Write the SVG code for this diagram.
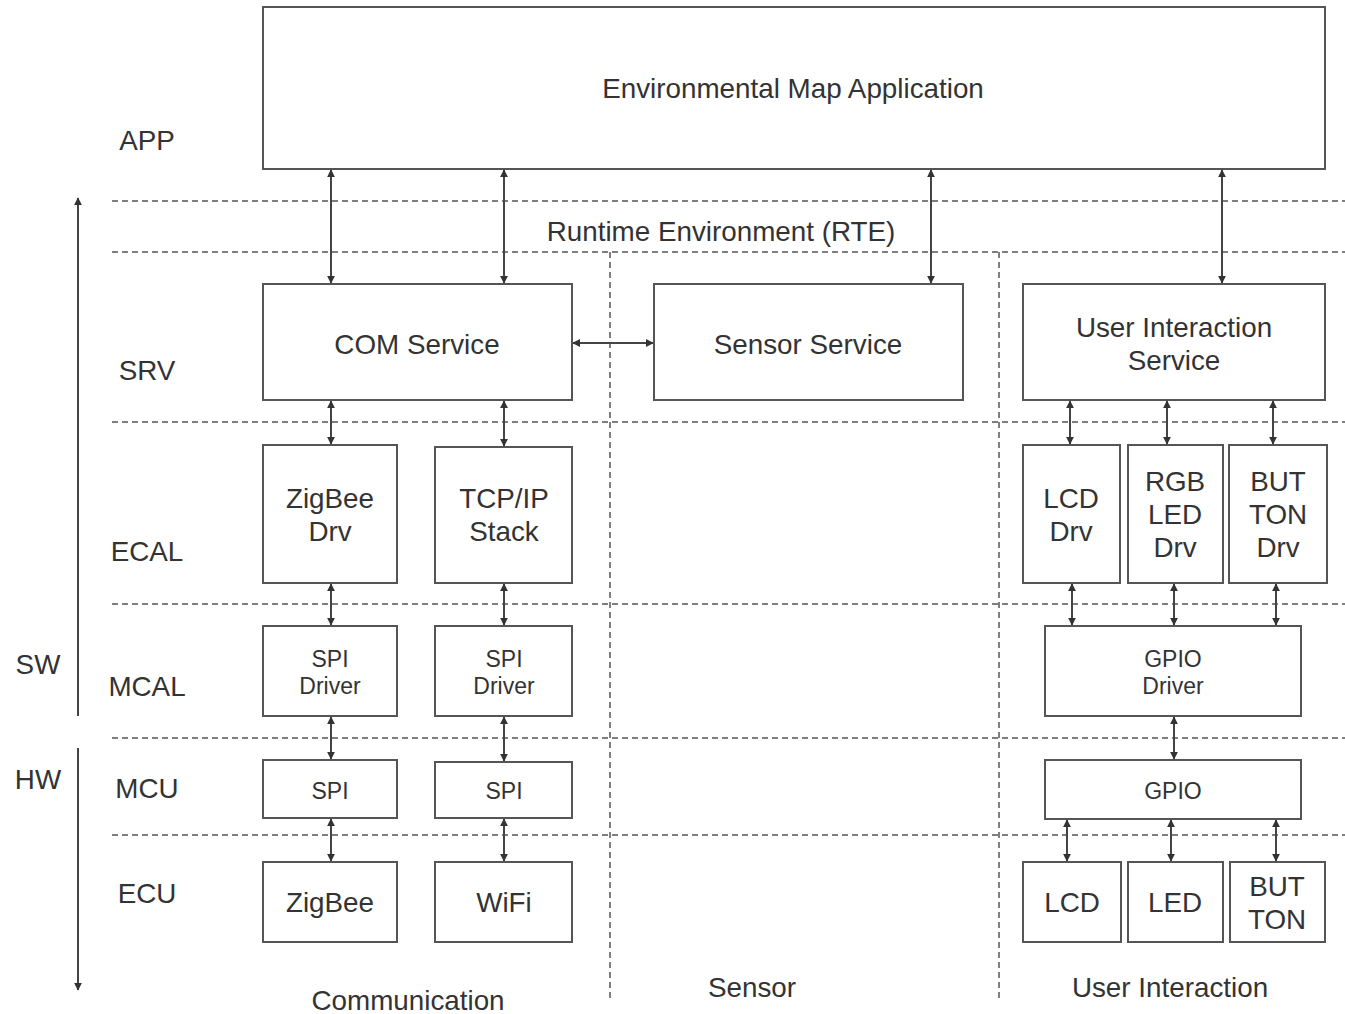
<svg xmlns="http://www.w3.org/2000/svg" width="1345" height="1014" viewBox="0 0 1345 1014">
<defs>
<style>
.box{fill:#fff;stroke:#555;stroke-width:2}
.t{font-family:"Liberation Sans",Arial,sans-serif;font-size:27.8px;fill:#333;text-anchor:middle}
.s{font-size:23px}
.dash{stroke:#555;stroke-width:1.5;stroke-dasharray:6 4;fill:none}
.c{stroke:#444;stroke-width:2;fill:none;marker-start:url(#a);marker-end:url(#a)}
.ax{stroke:#444;stroke-width:2;fill:none;marker-end:url(#a)}
</style>
<marker id="a" viewBox="0 0 10 10" refX="9" refY="5" markerWidth="4" markerHeight="4" orient="auto-start-reverse" markerUnits="strokeWidth">
<path d="M0,0 L10,5 L0,10 z" fill="#333"/>
</marker>
</defs>
<rect width="1345" height="1014" fill="#fff"/>
<g id="grid">
<line class="dash" x1="112" y1="201" x2="1345" y2="201"/>
<line class="dash" x1="112" y1="252" x2="1345" y2="252"/>
<line class="dash" x1="112" y1="422" x2="1345" y2="422"/>
<line class="dash" x1="112" y1="604" x2="1345" y2="604"/>
<line class="dash" x1="112" y1="738" x2="1345" y2="738"/>
<line class="dash" x1="112" y1="835" x2="1345" y2="835"/>
<line class="dash" x1="610" y1="252" x2="610" y2="1000"/>
<line class="dash" x1="999" y1="252" x2="999" y2="1000"/>
</g>
<g id="axis">
<line class="ax" x1="78" y1="716" x2="78" y2="198"/>
<line class="ax" x1="78" y1="748" x2="78" y2="990"/>
</g>
<g id="labels">
<text class="t" x="147" y="150">APP</text>
<text class="t" x="721" y="241">Runtime Environment (RTE)</text>
<text class="t" x="147" y="380">SRV</text>
<text class="t" x="147" y="561">ECAL</text>
<text class="t" x="147" y="696">MCAL</text>
<text class="t" x="147" y="798">MCU</text>
<text class="t" x="147" y="903">ECU</text>
<text class="t" x="38" y="674">SW</text>
<text class="t" x="38" y="789">HW</text>
<text class="t" x="408" y="1010">Communication</text>
<text class="t" x="752" y="997">Sensor</text>
<text class="t" x="1170" y="997">User Interaction</text>
</g>
<g id="connectors">
<line class="c" x1="331" y1="170" x2="331" y2="283"/>
<line class="c" x1="504" y1="170" x2="504" y2="283"/>
<line class="c" x1="931" y1="170" x2="931" y2="283"/>
<line class="c" x1="1222" y1="170" x2="1222" y2="283"/>
<line class="c" x1="573" y1="343" x2="653" y2="343"/>
<line class="c" x1="331" y1="401" x2="331" y2="444"/>
<line class="c" x1="504" y1="401" x2="504" y2="446"/>
<line class="c" x1="1070" y1="401" x2="1070" y2="444"/>
<line class="c" x1="1167" y1="401" x2="1167" y2="444"/>
<line class="c" x1="1273" y1="401" x2="1273" y2="444"/>
<line class="c" x1="331" y1="584" x2="331" y2="625"/>
<line class="c" x1="504" y1="584" x2="504" y2="625"/>
<line class="c" x1="1072" y1="584" x2="1072" y2="625"/>
<line class="c" x1="1174" y1="584" x2="1174" y2="625"/>
<line class="c" x1="1276" y1="584" x2="1276" y2="625"/>
<line class="c" x1="331" y1="717" x2="331" y2="759"/>
<line class="c" x1="504" y1="717" x2="504" y2="761"/>
<line class="c" x1="1174" y1="717" x2="1174" y2="759"/>
<line class="c" x1="331" y1="819" x2="331" y2="861"/>
<line class="c" x1="504" y1="819" x2="504" y2="861"/>
<line class="c" x1="1067" y1="820" x2="1067" y2="861"/>
<line class="c" x1="1171" y1="820" x2="1171" y2="861"/>
<line class="c" x1="1276" y1="820" x2="1276" y2="861"/>
</g>
<g id="app"><rect class="box" x="263" y="7" width="1062" height="162"/><text class="t" x="793" y="98">Environmental Map Application</text></g>
<g id="com-service"><rect class="box" x="263" y="284" width="309" height="116"/><text class="t" x="417" y="354">COM Service</text></g>
<g id="sensor-service"><rect class="box" x="654" y="284" width="309" height="116"/><text class="t" x="808" y="354">Sensor Service</text></g>
<g id="ui-service"><rect class="box" x="1023" y="284" width="302" height="116"/><text class="t" x="1174" y="337">User Interaction</text><text class="t" x="1174" y="370">Service</text></g>
<g id="zigbee-drv"><rect class="box" x="263" y="445" width="134" height="138"/><text class="t" x="330" y="508">ZigBee</text><text class="t" x="330" y="541">Drv</text></g>
<g id="tcpip"><rect class="box" x="435" y="447" width="137" height="136"/><text class="t" x="504" y="508">TCP/IP</text><text class="t" x="504" y="541">Stack</text></g>
<g id="lcd-drv"><rect class="box" x="1023" y="445" width="97" height="138"/><text class="t" x="1071" y="508">LCD</text><text class="t" x="1071" y="541">Drv</text></g>
<g id="rgb-drv"><rect class="box" x="1128" y="445" width="95" height="138"/><text class="t" x="1175" y="491">RGB</text><text class="t" x="1175" y="524">LED</text><text class="t" x="1175" y="557">Drv</text></g>
<g id="button-drv"><rect class="box" x="1229" y="445" width="98" height="138"/><text class="t" x="1278" y="491">BUT</text><text class="t" x="1278" y="524">TON</text><text class="t" x="1278" y="557">Drv</text></g>
<g id="spi-drv1"><rect class="box" x="263" y="626" width="134" height="90"/><text class="t s" x="330" y="667">SPI</text><text class="t s" x="330" y="694">Driver</text></g>
<g id="spi-drv2"><rect class="box" x="435" y="626" width="137" height="90"/><text class="t s" x="504" y="667">SPI</text><text class="t s" x="504" y="694">Driver</text></g>
<g id="gpio-drv"><rect class="box" x="1045" y="626" width="256" height="90"/><text class="t s" x="1173" y="667">GPIO</text><text class="t s" x="1173" y="694">Driver</text></g>
<g id="spi1"><rect class="box" x="263" y="760" width="134" height="58"/><text class="t s" x="330" y="799">SPI</text></g>
<g id="spi2"><rect class="box" x="435" y="762" width="137" height="56"/><text class="t s" x="504" y="799">SPI</text></g>
<g id="gpio"><rect class="box" x="1045" y="760" width="256" height="59"/><text class="t s" x="1173" y="799">GPIO</text></g>
<g id="zigbee"><rect class="box" x="263" y="862" width="134" height="80"/><text class="t" x="330" y="912">ZigBee</text></g>
<g id="wifi"><rect class="box" x="435" y="862" width="137" height="80"/><text class="t" x="504" y="912">WiFi</text></g>
<g id="lcd"><rect class="box" x="1023" y="862" width="98" height="80"/><text class="t" x="1072" y="912">LCD</text></g>
<g id="led"><rect class="box" x="1128" y="862" width="95" height="80"/><text class="t" x="1175" y="912">LED</text></g>
<g id="button"><rect class="box" x="1230" y="862" width="95" height="80"/><text class="t" x="1277" y="896">BUT</text><text class="t" x="1277" y="929">TON</text></g>
</svg>
